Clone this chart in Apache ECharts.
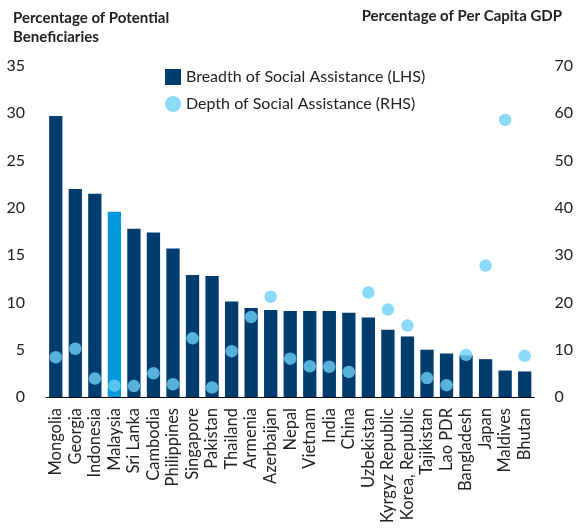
<!DOCTYPE html>
<html><head><meta charset="utf-8">
<script src="https://cdn.jsdelivr.net/npm/echarts@6/dist/echarts.min.js"></script>
<style>html,body{margin:0;padding:0;background:#fff}#c{width:576px;height:528px}</style>
</head><body><div id="c"></div>
<script>
const categories = ["Mongolia","Georgia","Indonesia","Malaysia","Sri Lanka","Cambodia","Philippines","Singapore","Pakistan","Thailand","Armenia","Azerbaijan","Nepal","Vietnam","India","China","Uzbekistan","Kyrgyz Republic","Korea, Republic","Tajikistan","Lao PDR","Bangladesh","Japan","Maldives","Bhutan"];
const breadth = [29.7,22.0,21.5,19.6,17.8,17.4,15.7,12.9,12.8,10.1,9.4,9.2,9.1,9.1,9.1,8.9,8.4,7.1,6.4,5.0,4.6,4.4,4.0,2.8,2.7];
const depth = [8.4,10.2,3.9,2.4,2.3,5.0,2.7,12.4,2.0,9.7,16.9,21.2,8.1,6.5,6.4,5.3,22.1,18.5,15.1,4.0,2.5,8.9,27.8,58.6,8.7];
const leftTicks = [0,35,5];
const rightTicks = [0,70,10];
const highlight = "Malaysia";

const FONT = "Lato";
const chart = echarts.init(document.getElementById('c'), null, {renderer:'canvas'});
chart.setOption({
  animation:false,
  textStyle:{fontFamily:FONT},
  title:[
    {text:"Percentage of Potential\nBeneficiaries", left:8, top:4, textStyle:{fontFamily:FONT,fontSize:15,fontWeight:'bold',color:'#222',lineHeight:19}},
    {text:"Percentage of Per Capita GDP", right:9, top:4, textStyle:{fontFamily:FONT,fontSize:15,fontWeight:'bold',color:'#222'}}
  ],
  legend:{orient:'vertical', left:160, top:64, itemGap:11, itemWidth:16, itemHeight:16,
    textStyle:{fontFamily:FONT,fontSize:16,color:'#222'},
    data:[{name:"Breadth of Social Assistance (LHS)", icon:'rect'},{name:"Depth of Social Assistance (RHS)", icon:'circle'}]},
  grid:{left:46, right:39, top:66, bottom:131},
  xAxis:{type:'category', data:categories,
    axisLine:{lineStyle:{color:'#000',width:1}}, axisTick:{show:false},
    axisLabel:{rotate:90, interval:0, fontFamily:FONT, fontSize:16.5, color:'#222', margin:11}},
  yAxis:[
    {type:'value', min:leftTicks[0], max:leftTicks[1], interval:leftTicks[2], splitLine:{show:false},
      axisLine:{show:false}, axisTick:{show:false}, axisLabel:{fontFamily:FONT,fontSize:16,color:'#222',margin:21}},
    {type:'value', min:rightTicks[0], max:rightTicks[1], interval:rightTicks[2], splitLine:{show:false},
      axisLine:{show:false}, axisTick:{show:false}, axisLabel:{fontFamily:FONT,fontSize:16,color:'#222',margin:20}}
  ],
  series:[
    {name:"Breadth of Social Assistance (LHS)", type:'bar', yAxisIndex:0, barWidth:'68%',
      itemStyle:{color:'#003d6e'},
      data:breadth.map((v,i)=>categories[i]===highlight?{value:v,itemStyle:{color:'#0098d8'}}:v)},
    {name:"Depth of Social Assistance (RHS)", type:'scatter', yAxisIndex:1, symbolSize:12.5,
      itemStyle:{color:'#6dcff6'}, data:depth, z:3}
  ]
});
</script></body></html>
